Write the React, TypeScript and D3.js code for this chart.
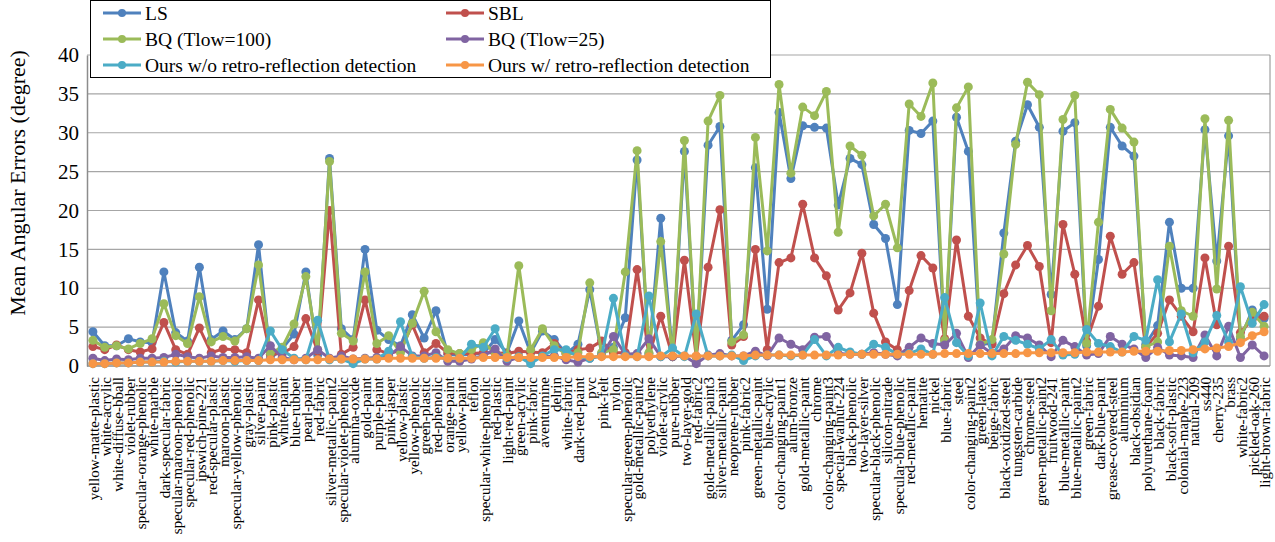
import React, { useEffect, useRef } from 'react'
import * as d3 from 'd3'

const materials = [
  'yellow-matte-plastic', 'white-acrylic', 'white-diffuse-bball', 'violet-rubber', 'specular-orange-phenolic',
  'white-marble', 'dark-specular-fabric', 'specular-maroon-phenolic', 'specular-red-phenolic', 'ipswich-pine-221',
  'red-specular-plastic', 'maroon-plastic', 'specular-yellow-phenolic', 'gray-plastic', 'silver-paint',
  'pink-plastic', 'white-paint', 'blue-rubber', 'pearl-paint', 'red-fabric',
  'silver-metallic-paint2', 'specular-violet-phenolic', 'alumina-oxide', 'gold-paint', 'purple-paint',
  'pink-jasper', 'yellow-plastic', 'yellow-phenolic', 'green-plastic', 'red-phenolic',
  'orange-paint', 'yellow-paint', 'teflon', 'specular-white-phenolic', 'red-plastic',
  'light-red-paint', 'green-acrylic', 'pink-fabric', 'aventurnine', 'delrin',
  'white-fabric', 'dark-red-paint', 'pvc', 'pink-felt', 'nylon',
  'specular-green-phenolic', 'gold-metallic-paint2', 'polyethylene', 'violet-acrylic', 'pure-rubber',
  'two-layer-gold', 'red-fabric2', 'gold-metallic-paint3', 'silver-metallic-paint', 'neoprene-rubber',
  'pink-fabric2', 'green-metallic-paint', 'blue-acrylic', 'color-changing-paint1', 'alum-bronze',
  'gold-metallic-paint', 'chrome', 'color-changing-paint3', 'special-walnut-224', 'black-phenolic',
  'two-layer-silver', 'specular-black-phenolic', 'silicon-nitrade', 'specular-blue-phenolic', 'red-metallic-paint',
  'hematite', 'nickel', 'blue-fabric', 'steel', 'color-changing-paint2',
  'green-latex', 'beige-fabric', 'black-oxidized-steel', 'tungsten-carbide', 'chrome-steel',
  'green-metallic-paint2', 'fruitwood-241', 'blue-metallic-paint', 'blue-metallic-paint2', 'green-fabric',
  'dark-blue-paint', 'grease-covered-steel', 'aluminium', 'black-obsidian', 'polyurethane-foam',
  'black-fabric', 'black-soft-plastic', 'colonial-maple-223', 'natural-209', 'ss440',
  'cherry-235', 'brass', 'white-fabric2', 'pickled-oak-260', 'light-brown-fabric'
]

const ls = [
  4.4, 2.6, 2.6, 3.5, 3.1, 3.0, 12.1, 4.3, 3.2, 12.7,
  3.4, 4.5, 3.4, 4.8, 15.6, 1.0, 2.2, 4.1, 12.1, 1.4,
  26.7, 4.8, 3.4, 15.0, 4.6, 3.4, 2.6, 6.6, 3.6, 7.1,
  1.5, 1.4, 1.5, 1.6, 3.4, 1.7, 5.8, 1.7, 4.5, 3.4,
  1.6, 2.8, 9.8, 1.6, 2.4, 6.2, 26.5, 1.6, 19.0, 1.2,
  27.6, 1.2, 28.4, 30.8, 3.3, 5.3, 25.5, 7.3, 32.6, 24.1,
  30.9, 30.7, 30.6, 20.7, 26.7, 25.9, 18.2, 16.4, 7.9, 30.3,
  29.9, 31.5, 3.0, 32.0, 27.6, 2.7, 3.0, 17.1, 28.9, 33.6,
  30.7, 9.2, 30.2, 31.3, 2.6, 13.7, 30.7, 28.3, 27.0, 2.8,
  5.2, 18.5, 10.0, 10.0, 30.4, 13.5, 29.6, 3.5, 7.2, 6.1
]

const sbl = [
  2.5, 2.1, 2.7, 2.1, 1.8, 2.2, 5.6, 2.1, 1.5, 4.9,
  1.7, 2.2, 2.1, 1.7, 8.5, 1.5, 1.6, 2.5, 6.1, 1.9,
  20.0, 1.5, 2.4, 8.5, 2.1, 1.6, 2.0, 5.3, 1.7, 2.9,
  1.7, 1.6, 1.6, 1.7, 1.7, 1.6, 1.9, 1.8, 1.7, 2.9,
  1.6, 2.1, 2.3, 3.2, 1.7, 1.7, 12.4, 1.3, 6.4, 1.2,
  13.6, 1.2, 12.7, 20.1, 2.7, 3.8, 15.0, 2.1, 13.3, 13.9,
  20.8, 13.9, 11.6, 7.2, 9.4, 14.5, 6.8, 3.1, 2.1, 9.7,
  14.2, 12.6, 3.5, 16.2, 6.4, 3.6, 2.8, 9.3, 13.0, 15.5,
  12.8, 3.0, 18.2, 11.8, 3.2, 7.7, 16.7, 11.8, 13.3, 2.4,
  4.2, 8.5, 6.4, 4.4, 13.9, 5.3, 15.4, 4.3, 6.0, 6.4
]

const bq100 = [
  3.3, 2.4, 2.6, 2.2, 2.9, 3.5, 8.0, 3.9, 2.9, 8.9,
  3.1, 3.8, 3.2, 4.8, 13.0, 1.7, 2.4, 5.4, 11.5, 2.1,
  26.3, 4.2, 3.2, 12.1, 2.9, 3.9, 1.7, 5.5, 9.6, 4.4,
  2.1, 1.6, 2.1, 3.0, 1.7, 1.3, 12.9, 2.1, 4.8, 2.6,
  1.5, 1.7, 10.7, 1.7, 2.1, 12.1, 27.7, 1.7, 16.0, 1.2,
  29.0, 1.2, 31.5, 34.8, 3.1, 4.0, 29.4, 14.8, 36.2, 24.8,
  33.3, 32.2, 35.3, 17.2, 28.3, 27.1, 19.3, 20.8, 15.2, 33.7,
  32.1, 36.4, 3.3, 33.2, 35.9, 2.8, 3.4, 14.4, 28.5, 36.5,
  34.9, 7.1, 31.7, 34.8, 2.9, 18.5, 33.0, 30.6, 28.8, 2.5,
  3.1, 15.4, 7.1, 6.4, 31.8, 9.9, 31.6, 3.8, 6.9, 5.1
]

const bq25 = [
  1.0, 0.7, 0.9, 0.8, 1.0, 1.0, 1.1, 1.5, 1.2, 1.0,
  1.3, 1.1, 1.1, 1.2, 1.0, 2.6, 1.1, 0.8, 1.0, 2.1,
  1.0, 1.3, 0.9, 1.0, 1.1, 1.3, 2.5, 1.3, 1.3, 1.7,
  0.6, 0.6, 0.9, 1.3, 2.2, 0.6, 1.1, 0.9, 1.2, 1.3,
  0.8, 0.5, 1.0, 1.3, 3.8, 1.5, 1.6, 3.5, 1.2, 1.2,
  1.3, 0.3, 1.4, 1.6, 1.3, 1.3, 1.9, 1.3, 3.6, 2.8,
  2.1, 3.7, 3.8, 1.6, 1.5, 1.5, 1.7, 1.5, 1.3, 2.4,
  3.6, 2.9, 2.7, 4.2, 1.1, 2.7, 1.6, 2.2, 3.9, 3.6,
  2.7, 1.2, 3.3, 2.5, 1.4, 1.6, 3.8, 2.8, 2.2, 1.1,
  2.4, 1.4, 1.3, 1.1, 4.0, 1.3, 5.1, 1.1, 2.7, 1.3
]

const oursNoRetro = [
  0.3, 0.3, 0.4, 0.4, 0.5, 0.5, 0.6, 0.5, 0.6, 0.6,
  0.6, 0.7, 0.6, 0.7, 0.7, 4.5, 2.1, 1.0, 0.8, 5.9,
  0.8, 0.9, 0.3, 0.9, 0.9, 1.9, 5.7, 1.2, 1.0, 1.1,
  1.0, 1.0, 2.8, 2.4, 4.8, 1.0, 1.2, 0.3, 1.3, 2.1,
  2.1, 1.2, 1.0, 1.3, 8.7, 1.3, 1.2, 9.0, 1.2, 2.3,
  1.2, 6.7, 1.3, 1.3, 1.4, 0.7, 1.3, 1.4, 1.4, 1.3,
  1.4, 3.4, 1.3, 2.4, 1.8, 1.5, 2.8, 2.4, 1.5, 1.6,
  2.2, 1.5, 8.8, 3.0, 1.3, 8.1, 1.3, 3.8, 3.3, 2.8,
  2.2, 3.4, 1.4, 1.5, 4.7, 2.9, 2.5, 1.8, 3.8, 3.3,
  11.1, 3.1, 6.7, 1.7, 3.1, 6.5, 3.1, 10.2, 5.5, 7.9
]

const oursRetro = [
  0.3, 0.3, 0.4, 0.4, 0.5, 0.5, 0.5, 0.6, 0.6, 0.6,
  0.6, 0.7, 0.7, 0.7, 0.7, 0.8, 0.8, 0.8, 0.8, 0.8,
  0.9, 0.9, 0.9, 0.9, 0.9, 1.0, 1.0, 1.0, 1.0, 1.0,
  1.0, 1.0, 1.0, 1.1, 1.1, 1.1, 1.1, 1.1, 1.1, 1.1,
  1.1, 1.2, 1.2, 1.2, 1.2, 1.2, 1.2, 1.2, 1.3, 1.3,
  1.3, 1.3, 1.3, 1.3, 1.3, 1.3, 1.4, 1.4, 1.4, 1.4,
  1.4, 1.4, 1.4, 1.4, 1.5, 1.5, 1.5, 1.5, 1.5, 1.5,
  1.5, 1.5, 1.6, 1.6, 1.6, 1.6, 1.6, 1.6, 1.6, 1.7,
  1.7, 1.7, 1.7, 1.7, 1.8, 1.8, 1.8, 1.8, 1.9, 1.9,
  1.9, 2.0, 2.0, 2.1, 2.2, 2.3, 2.5, 3.0, 3.9, 4.4
]

const seriesNames = [
  'LS', 'SBL', 'BQ (Tlow=100)', 'BQ (Tlow=25)',
  'Ours w/o retro-reflection detection', 'Ours w/ retro-reflection detection'
]
const seriesValues = [ls, sbl, bq100, bq25, oursNoRetro, oursRetro]
const seriesColors = ['#4f81bd', '#c0504d', '#9bbb59', '#8064a2', '#4bacc6', '#f79646']

const yTicks = [0, 5, 10, 15, 20, 25, 30, 35, 40]

function ErrorChart() {
  const chart = useRef<SVGSVGElement>(null)

  useEffect(() => {
    const w = 1275
    const h = 542
    const left = 87
    const right = 1270
    const top = 55
    const bottom = 366
    const font = '"Liberation Serif", "Times New Roman", serif'

    const svg = d3.select(chart.current)
      .attr('width', w)
      .attr('height', h)
    svg.selectAll('*').remove()

    const x = d3.scalePoint<string>().domain(materials).range([left, right]).padding(0.5)
    const y = d3.scaleLinear().domain([0, 40]).range([bottom, top])

    // gridlines
    svg.append('g')
      .selectAll('line')
      .data(yTicks.filter(t => t > 0))
      .join('line')
      .attr('x1', left)
      .attr('x2', right)
      .attr('y1', d => y(d))
      .attr('y2', d => y(d))
      .attr('stroke', '#a6a6a6')
      .attr('stroke-width', 1.2)

    // plot border right + axes
    svg.append('line')
      .attr('x1', right).attr('x2', right)
      .attr('y1', top).attr('y2', bottom)
      .attr('stroke', '#8c8c8c')
    svg.append('line')
      .attr('x1', left).attr('x2', right)
      .attr('y1', bottom).attr('y2', bottom)
      .attr('stroke', '#8c8c8c').attr('stroke-width', 1.5)

    const yAxis = svg.append('g')
      .attr('transform', `translate(${left},0)`)
      .call(d3.axisLeft(y).tickValues(yTicks).tickSize(0).tickPadding(8))
    yAxis.select('.domain').attr('stroke', '#8c8c8c').attr('stroke-width', 1.5)
    yAxis.selectAll('text')
      .attr('font-family', font)
      .attr('font-size', 21)
      .attr('fill', '#000')

    // axis title
    svg.append('text')
      .text('Mean Angular Errors (degree)')
      .attr('transform', 'translate(25,183) rotate(-90)')
      .attr('text-anchor', 'middle')
      .attr('font-family', font)
      .attr('font-size', 22)
      .attr('fill', '#000')

    // category labels
    svg.append('g')
      .selectAll('text')
      .data(materials)
      .join('text')
      .text(d => d)
      .attr('transform', d => `translate(${x(d)! + 1},${bottom + 11}) rotate(-90)`)
      .attr('text-anchor', 'end')
      .attr('dy', '0.35em')
      .attr('font-family', font)
      .attr('font-size', 15)
      .attr('fill', '#000')

    // series
    const line = d3.line<number>()
      .x((_, i) => x(materials[i])!)
      .y(v => y(v))

    seriesValues.forEach((vals, s) => {
      const g = svg.append('g')
      g.append('path')
        .attr('d', line(vals))
        .attr('fill', 'none')
        .attr('stroke', seriesColors[s])
        .attr('stroke-width', 3)
        .attr('stroke-linejoin', 'round')
      g.selectAll('circle')
        .data(vals)
        .join('circle')
        .attr('cx', (_, i) => x(materials[i])!)
        .attr('cy', v => y(v))
        .attr('r', 4.5)
        .attr('fill', seriesColors[s])
    })

    // LEGEND
    const legend = svg.append('g')
    legend.append('rect')
      .attr('x', 90.5).attr('y', 0.5)
      .attr('width', 680).attr('height', 77)
      .attr('fill', '#fff')
      .attr('stroke', '#000')
      .attr('stroke-width', 1)
    seriesNames.forEach((name, s) => {
      const col = s % 2
      const row = Math.floor(s / 2)
      const lx = col === 0 ? 103 : 446
      const ly = 13 + row * 26
      legend.append('line')
        .attr('x1', lx).attr('x2', lx + 38)
        .attr('y1', ly).attr('y2', ly)
        .attr('stroke', seriesColors[s])
        .attr('stroke-width', 3)
      legend.append('circle')
        .attr('cx', lx + 19).attr('cy', ly)
        .attr('r', 4)
        .attr('fill', seriesColors[s])
      legend.append('text')
        .text(name)
        .attr('x', lx + 42)
        .attr('y', ly)
        .attr('dy', '0.35em')
        .attr('font-family', font)
        .attr('font-size', 19.5)
        .attr('fill', '#000')
    })
  }, [])

  return (
    <svg ref={chart} style={{ position: 'absolute', left: 0, top: 0 }}></svg>
  )
}

export default function App() {
  return <ErrorChart />
}
